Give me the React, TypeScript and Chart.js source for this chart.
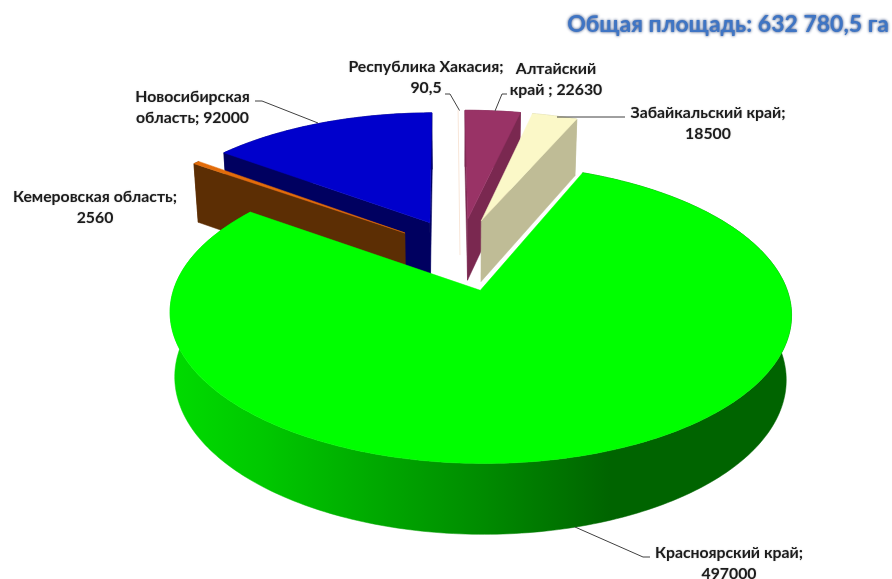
import React, { useEffect, useRef } from "react";
import { Chart, registerables } from "chart.js";

Chart.register(...registerables);

const categories = ["Красноярский край", "Кемеровская область", "Новосибирская область", "Республика Хакасия", "Алтайский край", "Забайкальский край"];
const areas = [497000, 2560, 92000, 90.5, 22630, 18500];
const topColors = ["#00ff00", "#e36c0a", "#0000cc", "#ffffff", "#993366", "#fbf8c8"];
const sideColors = ["#008c00", "#5c2e04", "#000060", "#ffffff", "#7a2850", "#bfbc96"];
const titleText = "Общая площадь: 632 780,5 га";

// Wrapped label text: lines come from the category names and values
const fmt = (v: number) => String(v).replace(".", ",");
const labelLines = [
  [categories[0] + ";", fmt(areas[0])],
  [categories[1] + ";", fmt(areas[1])],
  ["Новосибирская", "область; " + fmt(areas[2])],
  [categories[3] + ";", fmt(areas[3])],
  ["Алтайский", "край ; " + fmt(areas[4])],
  [categories[5] + ";", fmt(areas[5])],
];

// Layout for labels and leader lines
const labelCenters = [[729, 553], [95, 197], [192.5, 97], [426, 67], [556, 69], [708, 113]];
const leaders: number[][][] = [
  [[575, 527], [643, 557], [650, 557]],
  [],
  [[255, 101], [262, 101], [318, 123]],
  [[445, 94], [450, 94], [459.5, 110.5]],
  [[507, 94], [502, 94], [495, 111]],
  [[557, 117], [625, 117]],
];

// Projection (perspective view of the pie)
const X0 = 460.5, Y0 = 254, A = 295, B = 135, K = 0.15, OFFY = 1.12, D0 = 25.5, D1 = 36.8, SHRINK = 0.984;

function project(u: number, v: number, bottom: boolean): [number, number] {
  const w = 1 - K * v;
  const x = X0 + (A * u) / w;
  const y = Y0 + (B * v) / w;
  if (!bottom) return [x, y];
  return [X0 + (x - X0) * SHRINK, y + D0 + D1 / w];
}

function poly(ctx: CanvasRenderingContext2D, pts: [number, number][], fill: any) {
  ctx.beginPath();
  pts.forEach((p, i) => (i ? ctx.lineTo(p[0], p[1]) : ctx.moveTo(p[0], p[1])));
  ctx.closePath();
  ctx.fillStyle = fill;
  ctx.fill();
  ctx.strokeStyle = fill;
  ctx.lineWidth = 0.5;
  ctx.stroke();
}

function signedArea(p: [number, number][]) {
  let s = 0;
  for (let i = 0; i < p.length; i++) {
    const q = p[(i + 1) % p.length];
    s += p[i][0] * q[1] - q[0] * p[i][1];
  }
  return s;
}

const paintOrder = [2, 1, 3, 4, 5, 0];

const pie3d = {
  id: "pie3d",
  beforeDatasetDraw(chart: any) {
    const ctx: CanvasRenderingContext2D = chart.ctx;
    const arcs = chart.getDatasetMeta(0).data;
    ctx.save();
    for (const i of paintOrder) {
      const arc = arcs[i];
      const { startAngle, endAngle, outerRadius } = arc;
      const d = arc.options.offset / outerRadius;
      const mid = (startAngle + endAngle) / 2;
      const ou = Math.cos(mid) * d;
      const ov = Math.sin(mid) * d * OFFY;
      const steps = Math.max(2, Math.ceil(((endAngle - startAngle) * 180) / Math.PI));
      const top: [number, number][] = [];
      const bot: [number, number][] = [];
      for (let s = 0; s <= steps; s++) {
        const a = startAngle + ((endAngle - startAngle) * s) / steps;
        top.push(project(ou + Math.cos(a), ov + Math.sin(a), false));
        bot.push(project(ou + Math.cos(a), ov + Math.sin(a), true));
      }
      const apexT = project(ou, ov, false);
      const apexB = project(ou, ov, true);
      let side: any = sideColors[i];
      if (i === 0) {
        const g = ctx.createLinearGradient(170, 0, 790, 0);
        g.addColorStop(0, "#00dc00");
        g.addColorStop(0.15, "#00c800");
        g.addColorStop(0.5, "#008c00");
        g.addColorStop(0.71, "#006400");
        g.addColorStop(1, "#006400");
        side = g;
      }
      if (i === 3) {
        // the 90,5 ha sliver shows only as a hairline
        ctx.strokeStyle = "#f8e6d8";
        ctx.lineWidth = 1;
        ctx.beginPath();
        ctx.moveTo(top[0][0], top[0][1]);
        ctx.lineTo(apexT[0], apexT[1] + 36);
        ctx.stroke();
        continue;
      }
      // outer rim
      poly(ctx, [...top, ...bot.slice().reverse()], side);
      // radial walls
      const wallA: [number, number][] = [apexT, top[0], bot[0], apexB];
      const wallB: [number, number][] = [apexT, top[steps], bot[steps], apexB];
      if (signedArea(wallA) < 0) poly(ctx, wallA, side);
      if (signedArea(wallB) > 0) poly(ctx, wallB, side);
      // top face
      poly(ctx, [apexT, ...top], arc.options.backgroundColor);
    }
    ctx.restore();
    return false;
  },
  afterDraw(chart: any) {
    const ctx: CanvasRenderingContext2D = chart.ctx;
    ctx.save();
    ctx.lineJoin = "round";
    // leaders
    ctx.strokeStyle = "#404040";
    ctx.lineWidth = 1;
    for (const l of leaders) {
      if (!l.length) continue;
      ctx.beginPath();
      l.forEach((p, i) => (i ? ctx.lineTo(p[0], p[1]) : ctx.moveTo(p[0], p[1])));
      ctx.stroke();
    }
    // labels
    ctx.font = 'bold 15.8px Lato';
    ctx.textAlign = "center";
    ctx.textBaseline = "middle";
    ctx.fillStyle = "#1c1c1c";
    ctx.shadowColor = "rgba(0,0,0,0.25)";
    ctx.shadowBlur = 1.5;
    labelLines.forEach((lines, i) => {
      lines.forEach((t, j) => ctx.fillText(t, labelCenters[i][0], labelCenters[i][1] + j * 20.5));
    });
    // title
    ctx.font = 'bold 23px Lato';
    ctx.textAlign = "right";
    ctx.fillStyle = "#3f75c4";
    ctx.shadowColor = "rgba(20,50,110,0.95)";
    ctx.shadowBlur = 3;
    ctx.fillText(titleText, 889, 25);
    ctx.restore();
  },
};

export default function App() {
  const ref = useRef<HTMLCanvasElement>(null);
  useEffect(() => {
    const chart = new Chart(ref.current!, {
      type: "pie",
      data: {
        labels: categories,
        datasets: [{ data: areas, backgroundColor: topColors, borderWidth: 0, offset: 62 }],
      },
      options: {
        responsive: false,
        animation: false,
        devicePixelRatio: 1,
        rotation: 23,
        layout: { padding: 0 },
        plugins: { legend: { display: false }, title: { display: false }, tooltip: { enabled: false } },
      },
      plugins: [pie3d],
    } as any);
    return () => chart.destroy();
  }, []);
  return (
    <div style={{ position: "absolute", left: 0, top: 0, width: 892, height: 579, background: "#fff" }}>
      <canvas ref={ref} width={892} height={579} style={{ display: "block" }} />
    </div>
  );
}
